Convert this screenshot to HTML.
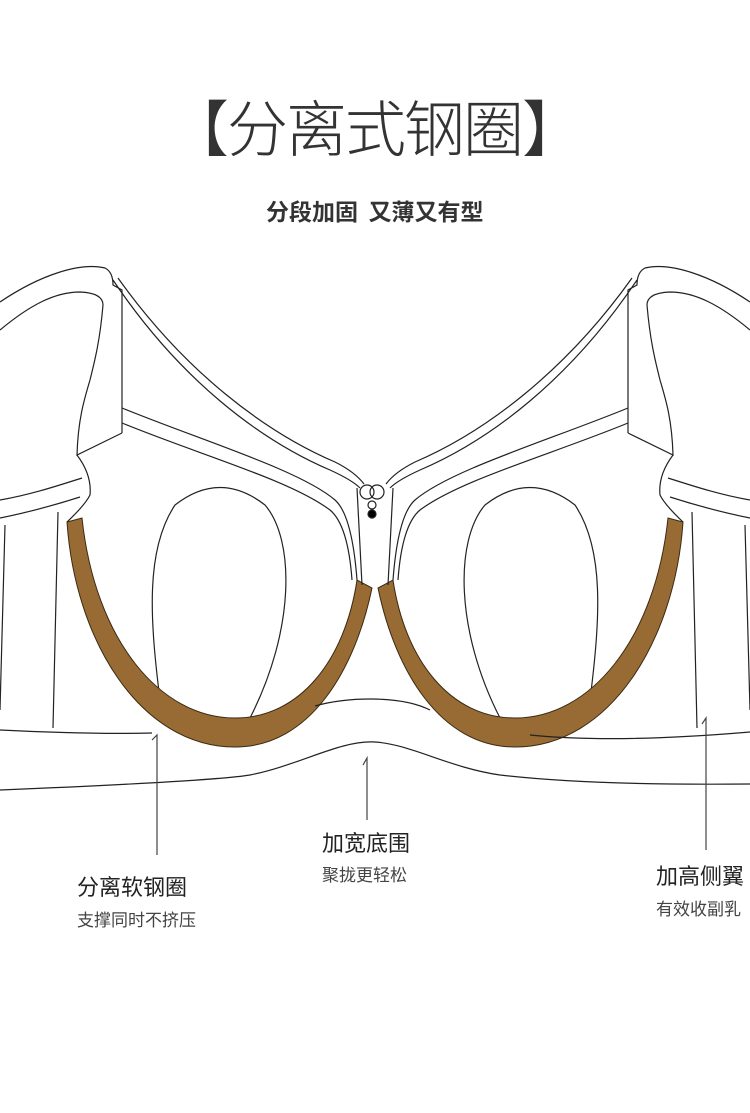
<!DOCTYPE html>
<html><head><meta charset="utf-8"><style>
html,body{margin:0;padding:0;background:#fff;}
body{width:750px;height:1113px;position:relative;overflow:hidden;font-family:"Liberation Sans","Noto Sans CJK SC",sans-serif;color:#333;}
.t{position:absolute;white-space:nowrap;font-family:'Noto Sans CJK SC',sans-serif;}
svg{position:absolute;left:0;top:0;}
</style></head><body>
<svg width="750" height="1113" viewBox="0 0 750 1113" fill="none" stroke="#222" stroke-width="1.2">
<g id="half">
<path d="M0,302 C40,275 80,262 105,268 Q113,272 113,285 L122,290 L122,433"/>
<path d="M0,330 C30,305 55,292 80,292 Q103,293 103,305 C100,340 95,360 90,380 C84,400 78,420 77,455 L122,433"/>
<path d="M113,280 C180,380 260,440 330,470 Q352,480 360,488"/>
<path d="M118,278 C185,372 265,432 335,462 Q355,472 364,484"/>
<path d="M122,408 C200,440 300,470 335,500 Q352,515 357,580"/>
<path d="M122,423 C200,455 290,480 330,510 Q348,525 352,580"/>
<path d="M77,455 Q92,475 90,495 Q85,505 67,522"/>
<path d="M0,500 C30,495 60,485 82,478"/>
<path d="M0,518 C30,512 55,505 80,497"/>
<path d="M5,525 L0,710"/>
<path d="M58,512 L53,728"/>
<path d="M160,700 C150,620 145,550 175,505 Q220,470 265,505 C295,540 295,630 250,718"/>
<path d="M67,522 C75,640 140,747 235,747 C310,747 355,670 372,588 L357,580 C345,660 300,718 235,718 C160,718 95,640 82,518 Z" fill="#976b33" stroke="#3a2a12" stroke-width="1"/>
<path d="M357,488 L362,585"/>
</g>
<use href="#half" transform="translate(750,0) scale(-1,1)"/>
<path d="M0,730 C60,733 110,734 152,733"/>
<path d="M315,706 C345,697 400,695 430,710"/>
<path d="M530,735 C600,742 680,738 750,732"/>
<path d="M0,790 C100,786 220,780 250,775 C300,765 340,740 375,742 C410,744 450,768 500,775 C560,782 650,785 750,784"/>
<circle cx="367" cy="492" r="7" fill="#fff"/>
<circle cx="377" cy="492" r="7" fill="none"/>
<circle cx="372" cy="505" r="4" fill="#fff"/>
<circle cx="372" cy="514" r="4" fill="#000"/>
<path d="M152,740 L157,735 L157,855" stroke="#444"/>
<path d="M363,765 L367,758 L367,820" stroke="#444"/>
<path d="M702,724 L706,718 L706,850" stroke="#444"/>
</svg>
<div class="t" style="left:168px;top:80px;font-size:61px;font-weight:300;color:#333;letter-spacing:-2px;">【分离式钢圈】</div>
<div class="t" style="left:266px;top:193px;font-size:23px;font-weight:bold;color:#333;">分段加固&nbsp;&nbsp;又薄又有型</div>
<div class="t" style="left:77px;top:870px;font-size:22px;color:#222;">分离软钢圈</div>
<div class="t" style="left:77px;top:906px;font-size:17px;color:#444;">支撑同时不挤压</div>
<div class="t" style="left:322px;top:826px;font-size:22px;color:#222;">加宽底围</div>
<div class="t" style="left:322px;top:861px;font-size:17px;color:#444;">聚拢更轻松</div>
<div class="t" style="left:656px;top:859px;font-size:22px;color:#222;">加高侧翼</div>
<div class="t" style="left:656px;top:895px;font-size:17px;color:#444;">有效收副乳</div>
</body></html>
